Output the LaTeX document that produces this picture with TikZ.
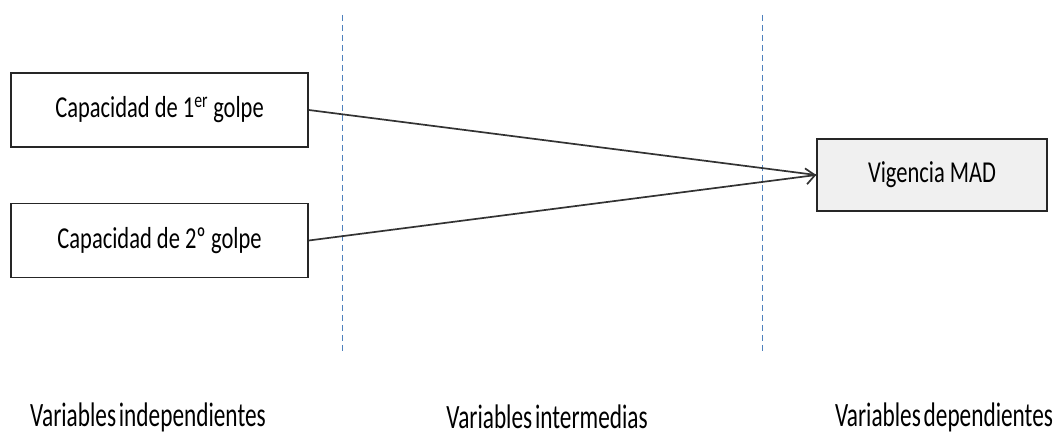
\documentclass[tikz,border=0pt]{standalone}
\usepackage{fontspec}
\setmainfont{Carlito}
\usetikzlibrary{arrows.meta}
\newcommand{\tallt}[1]{\scalebox{1}[1.35]{#1}}
\newcommand{\capt}[1]{\scalebox{0.97}[1.42]{\fontdimen2\font=0.12em #1}}
\definecolor{divblue}{HTML}{4F81BD}
\begin{document}
\begin{tikzpicture}[x=1pt,y=1pt,
  varbox/.style={draw=black!85,line width=1.6pt,minimum height=74pt,inner sep=0pt,font=\fontsize{22.5}{24}\selectfont},
  divider/.style={draw=divblue,dashed,dash pattern=on 6pt off 4pt,line width=0.8pt},
  link/.style={draw=black!80,line width=1.7pt},
  caption/.style={font=\fontsize{24}{26}\selectfont,inner sep=0pt}]
\useasboundingbox (0,0) rectangle (1054,439);
\node[varbox,fill=white,minimum width=297pt] (cap1) at (159.5,329) {\tallt{Capacidad de 1\textsuperscript{er} golpe}};
\node[varbox,fill=white,minimum width=297pt] (cap2) at (159.5,198.5) {\tallt{Capacidad de 2º golpe}};
\node[varbox,fill=black!6,minimum width=230pt,minimum height=72pt] (mad) at (932,264) {\tallt{Vigencia MAD}};
\coordinate (d1t) at (342,424); \coordinate (d1b) at (342,88);
\coordinate (d2t) at (762,424); \coordinate (d2b) at (762,88);
\draw[divider] (d1t) -- (d1b);
\draw[divider] (d2t) -- (d2b);
\draw[link] (cap1.east) -- (mad.west);
\draw[link,-{Straight Barb[length=9pt,width=16pt]}] (cap2.east) -- (mad.west);
\node[caption] (lab1) at (148,22) {\capt{Variables independientes}};
\node[caption] (lab2) at (547,22) {\capt{Variables intermedias}};
\node[caption] (lab3) at (944,22) {\capt{Variables dependientes}};
\end{tikzpicture}
\end{document}
